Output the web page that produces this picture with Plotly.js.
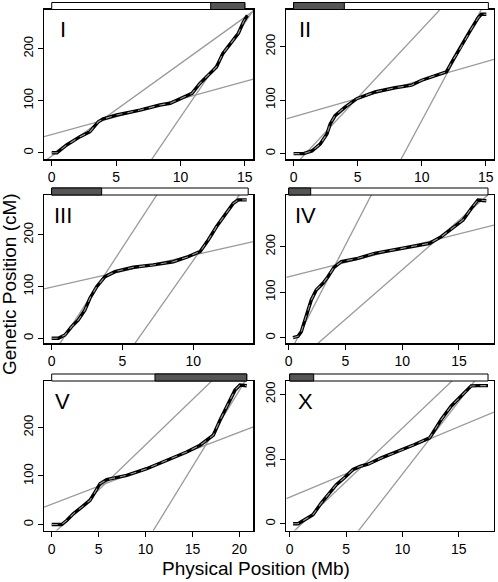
<!DOCTYPE html>
<html>
<head>
<meta charset="utf-8">
<script src="https://cdn.plot.ly/plotly-3.0.1.min.js"></script>
<style>html,body{margin:0;padding:0;background:#fff;}#chart{width:498px;height:582px;}</style>
</head>
<body>
<div id="chart"></div>
<script>
// ---------------- data ----------------
const chromosomes = ["I", "II", "III", "IV", "V", "X"];

// Marey map curves: physical position (Mb) vs genetic position (cM)
const mbI  = [0, 0.4, 1.16, 2.2, 2.97, 3.62, 4.0, 5.05, 6.86, 8.4, 9.2, 10.0, 10.9, 11.5, 12.17, 12.8, 13.3, 14.1, 14.5, 14.9, 15.2];
const cmI  = [0, 0, 14.8, 30.8, 40.4, 59.6, 65, 72.5, 82, 91.7, 95, 104.6, 114, 133, 149, 165, 191, 217, 229.6, 252, 264];
const mbII = [0, 0.78, 1.43, 2.07, 2.6, 2.85, 3.24, 4.02, 4.93, 6.36, 7.91, 9.2, 10.0, 11.03, 11.93, 12.45, 13.1, 13.75, 14.4, 14.65, 15.04];
const cmII = [0, 0, 5, 17.7, 36.6, 55, 71, 86.8, 102.6, 115, 123, 127.7, 137, 144.7, 152.8, 175, 200, 228, 253.6, 260, 260];
const mbIII = [0, 0.47, 0.94, 1.41, 1.88, 2.35, 2.7, 3.18, 3.76, 4.47, 5.76, 7.17, 8.58, 9.53, 10.47, 11.05, 11.64, 12.23, 12.82, 13.17, 13.76];
const cmIII = [0, 0, 6.4, 22.5, 35.4, 54.7, 77.4, 99.8, 119, 128.8, 137.3, 141.8, 148, 156.7, 167.5, 190, 216, 238.5, 261, 267.5, 267.5];
const mbIV = [0.38, 0.82, 1.11, 1.55, 1.99, 2.43, 3.02, 3.46, 3.99, 4.63, 6.1, 7.58, 9.34, 11.1, 12.42, 13.45, 14.63, 15.36, 16.09, 16.68, 17.41];
const cmIV = [0, 3, 13, 46, 83, 105, 119.5, 134, 154.7, 167, 174.5, 185.5, 194, 201.5, 207.5, 222, 244, 258.7, 284, 302.6, 301];
const mbV  = [0, 1.07, 1.6, 2.3, 3.2, 4.08, 4.62, 5.15, 5.86, 8.0, 10.13, 12.26, 14.39, 15.81, 17.23, 17.94, 18.83, 19.54, 20.07, 20.79];
const cmV  = [0, 0, 8.3, 22, 35.8, 49.6, 66.9, 84, 92.4, 101.3, 115, 132.4, 149.5, 163.4, 184, 215, 249.6, 277, 287.5, 286];
const mbX  = [0.3, 0.74, 1.33, 2.07, 2.8, 3.4, 4.14, 4.88, 5.62, 6.3, 6.95, 8.13, 9.32, 11.09, 12.42, 13.45, 14.34, 15.23, 16.11, 16.7, 17.6];
const cmX  = [0, 0, 6.2, 14, 32, 45, 60.5, 71.5, 84, 89, 92, 101.8, 109.6, 122.5, 132.8, 161, 182, 197.4, 213, 213.5, 213.5];

// regression lines (cM = slope * Mb + intercept): left arm, center, right arm
const leftSlope    = [17.8, 25.6, 42.0, 48.3, 18.65, 16.55];
const leftInt      = [-6.5, -23.7, -34.5, -37.9, -22.3, -17.7];
const centerSlope  = [6.8, 6.85, 6.2, 6.28, 7.42, 7.26];
const centerInt    = [34.9, 68.9, 98.7, 134, 41.9, 41];
const rightSlope   = [36.3, 44.6, 38.95, 21.76, 31.5, 22.45];
const rightInt     = [-294.7, -384.4, -238.7, -68.4, -353.6, -147.8];

// chromosome bars above panels (Mb)
const chromLen  = [15.0, 15.2, 13.87, 17.56, 20.79, 17.6];
const darkStart = [12.35, 0, 0, 0, 11.01, 0];
const darkEnd   = [15.0, 3.96, 3.53, 1.94, 20.79, 2.13];

const xTicks = [[0,5,10,15],[0,5,10,15],[0,5,10],[0,5,10,15],[0,5,10,15,20],[0,5,10,15]];
const yTicks = [0, 100, 200];

const curvesMb = [mbI, mbII, mbIII, mbIV, mbV, mbX];
const curvesCm = [cmI, cmII, cmIII, cmIV, cmV, cmX];

// ---------------- layout ----------------
const W = 498, H = 582;
const cols = [[44, 253.3], [286.3, 494]];
const rows = [[9.5, 159.3], [195, 343.3], [381, 530.5]];
const xRanges = [[-0.6, 15.66], [-0.57, 15.64], [-0.54, 14.23], [-0.21, 18.09], [-0.82, 21.49], [-0.3, 18.13]];
const yRanges = [[-12.7, 275.4], [-10.6, 269], [-9.7, 277], [-12.3, 313.6], [-12.4, 295.8], [-10.4, 220.6]];

const FONT = "Liberation Sans, Arial, Helvetica, sans-serif";
const traces = [];
const shapes = [];
const annotations = [];
const layout = {
  width: W, height: H,
  margin: {l: 0, r: 0, t: 0, b: 0},
  paper_bgcolor: "#fff", plot_bgcolor: "#fff",
  showlegend: false,
  font: {family: FONT, color: "#000"},
};

chromosomes.forEach((name, k) => {
  const suf = k === 0 ? "" : String(k + 1);
  const xa = "x" + suf, ya = "y" + suf;
  const col = cols[k % 2], row = rows[Math.floor(k / 2)];
  const xr = xRanges[k], yr = yRanges[k];

  layout["xaxis" + suf] = {
    domain: [col[0] / W, col[1] / W], range: xr, anchor: ya,
    tickvals: xTicks[k], ticktext: xTicks[k].map(String),
    ticks: "outside", ticklen: 5, tickwidth: 1, tickcolor: "#000",
    showline: true, linecolor: "#000", linewidth: 1.3, mirror: true,
    showgrid: false, zeroline: false,
    tickfont: {size: 14, family: FONT, color: "#000"},
  };
  layout["yaxis" + suf] = {
    domain: [1 - row[1] / H, 1 - row[0] / H], range: yr, anchor: xa,
    tickvals: yTicks, ticktext: yTicks.map(String), tickangle: -90,
    ticks: "outside", ticklen: 5, tickwidth: 1, tickcolor: "#000",
    showline: true, linecolor: "#000", linewidth: 1.3, mirror: true,
    showgrid: false, zeroline: false,
    tickfont: {size: 13, family: FONT, color: "#000"},
  };

  // regression lines
  const lines = [[leftSlope[k], leftInt[k]], [centerSlope[k], centerInt[k]], [rightSlope[k], rightInt[k]]];
  lines.forEach(([s, b]) => {
    traces.push({
      x: [xr[0], xr[1]], y: [s * xr[0] + b, s * xr[1] + b],
      xaxis: xa, yaxis: ya, mode: "lines", hoverinfo: "skip",
      line: {color: "#9a9a9a", width: 1.3},
    });
  });

  // data curve: black points with a grey dashed fit
  traces.push({
    x: curvesMb[k], y: curvesCm[k], xaxis: xa, yaxis: ya, mode: "lines",
    line: {color: "#000", width: 3.4, shape: "linear"}, hoverinfo: "skip",
  });
  traces.push({
    x: curvesMb[k], y: curvesCm[k], xaxis: xa, yaxis: ya, mode: "lines",
    line: {color: "#999999", width: 1.1, dash: "6px,5px"}, hoverinfo: "skip",
  });

  // chromosome bar
  const top = 1 - row[0] / H, barTop = 1 - (row[0] - 7) / H;
  shapes.push({type: "rect", xref: xa, yref: "paper", x0: 0, x1: chromLen[k], y0: top, y1: barTop,
    fillcolor: "#fff", line: {color: "#000", width: 1}});
  shapes.push({type: "rect", xref: xa, yref: "paper", x0: darkStart[k], x1: darkEnd[k], y0: top, y1: barTop,
    fillcolor: "#555555", line: {color: "#000", width: 1}});

  annotations.push({
    text: name, xref: "paper", yref: "paper",
    x: (col[0] + 19) / W, y: 1 - (row[0] + 20) / H, xanchor: "center", yanchor: "middle",
    showarrow: false, font: {size: 22, family: FONT, color: "#000"},
  });
});

annotations.push({
  text: "Genetic Position (cM)", xref: "paper", yref: "paper",
  x: 9 / W, y: 1 - 284 / H, xanchor: "center", yanchor: "middle", textangle: -90,
  showarrow: false, font: {size: 19, family: FONT, color: "#000"},
});
annotations.push({
  text: "Physical Position (Mb)", xref: "paper", yref: "paper",
  x: 256 / W, y: 1 - 568 / H, xanchor: "center", yanchor: "middle",
  showarrow: false, font: {size: 19, family: FONT, color: "#000"},
});

layout.shapes = shapes;
layout.annotations = annotations;

Plotly.newPlot("chart", traces, layout, {staticPlot: true, displayModeBar: false});
</script>
</body>
</html>
